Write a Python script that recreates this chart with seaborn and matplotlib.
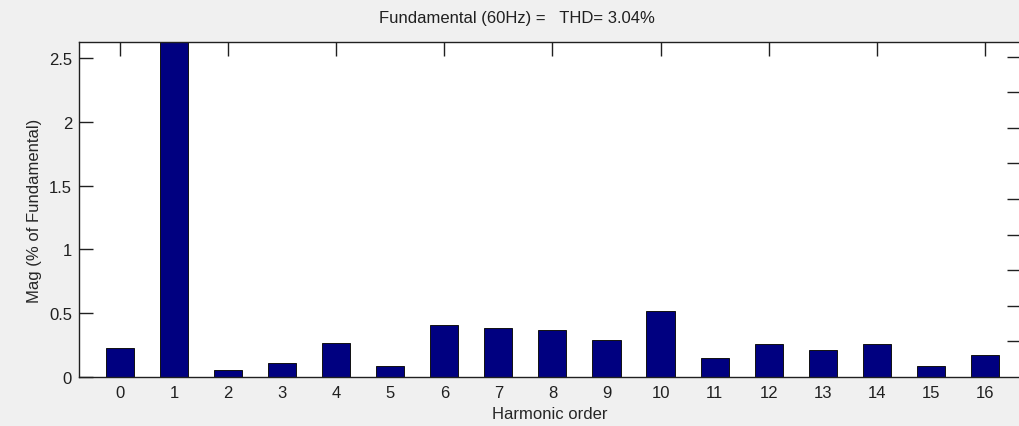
import matplotlib
matplotlib.use("Agg")
import matplotlib.pyplot as plt
import seaborn as sns
import pandas as pd
import numpy as np

# Harmonic spectrum, magnitude as % of the fundamental
orders = list(range(17))
magnitudes = [0.23, 100.0, 0.052, 0.11, 0.27, 0.089, 0.41, 0.386, 0.368,
              0.287, 0.52, 0.149, 0.26, 0.209, 0.261, 0.089, 0.17]
left_ticks = [0, 0.5, 1, 1.5, 2, 2.5]
top_ticks = [0, 2, 4, 6, 8, 10, 12, 14, 16]
right_ticks = [1, 2, 3, 4, 5, 6, 7, 8, 9]

title_text = "Fundamental (60Hz) =   THD= 3.04%"
x_label = "Harmonic order"
y_label = "Mag (% of Fundamental)"

sns.set_style("white")
plt.rcParams["font.family"] = ["Liberation Sans", "DejaVu Sans"]

df = pd.DataFrame({"order": orders, "mag": magnitudes})

W, H = 1019, 427
fig = plt.figure(figsize=(W / 100, H / 100), dpi=100, facecolor="#F0F0F0")
ax = fig.add_axes([79 / W, (H - 378) / H, (1021 - 79) / W, (378 - 43) / H])
ax.set_facecolor("white")

sns.barplot(data=df, x="order", y="mag", order=orders, color="#000080",
            saturation=1, width=0.52, edgecolor="#111111", linewidth=0.7, ax=ax)
for p in ax.patches:
    p.set_facecolor("#000080")

ax.set_xlim(-0.76, 16.67)
ax.set_ylim(0, 2.625)
ax.set_yticks(left_ticks)
ax.set_yticklabels(["0", "0.5", "1", "1.5", "2", "2.5"])
ax.set_xlabel(x_label, fontsize=12, labelpad=4)
ax.set_ylabel(y_label, fontsize=12, labelpad=5)
ax.tick_params(axis="x", length=0, pad=6, labelsize=12, colors="#202020")
ax.tick_params(axis="y", direction="in", length=10, width=1, pad=5,
               labelsize=12, colors="#202020")
for side in ["left", "bottom", "top"]:
    ax.spines[side].set_visible(True)
    ax.spines[side].set_color("#202020")
    ax.spines[side].set_linewidth(1)
ax.spines["right"].set_visible(False)

# Top tick marks every other harmonic
top = ax.secondary_xaxis("top")
top.set_xticks(top_ticks)
top.set_xticklabels([])
top.tick_params(direction="in", length=10, width=1, colors="#202020")
top.spines["top"].set_visible(False)

# Unlabelled right-hand tick marks
rax = ax.twinx()
rax.set_ylim(0, 9.41)
rax.set_yticks(right_ticks)
rax.set_yticklabels([])
rax.tick_params(axis="y", direction="in", length=10, width=1, colors="#202020")
for s in rax.spines.values():
    s.set_visible(False)

fig.text(517 / W, 1 - 18 / H, title_text, ha="center", va="center",
         fontsize=12, color="#202020")

fig.savefig("out.png", dpi=100, facecolor=fig.get_facecolor())
